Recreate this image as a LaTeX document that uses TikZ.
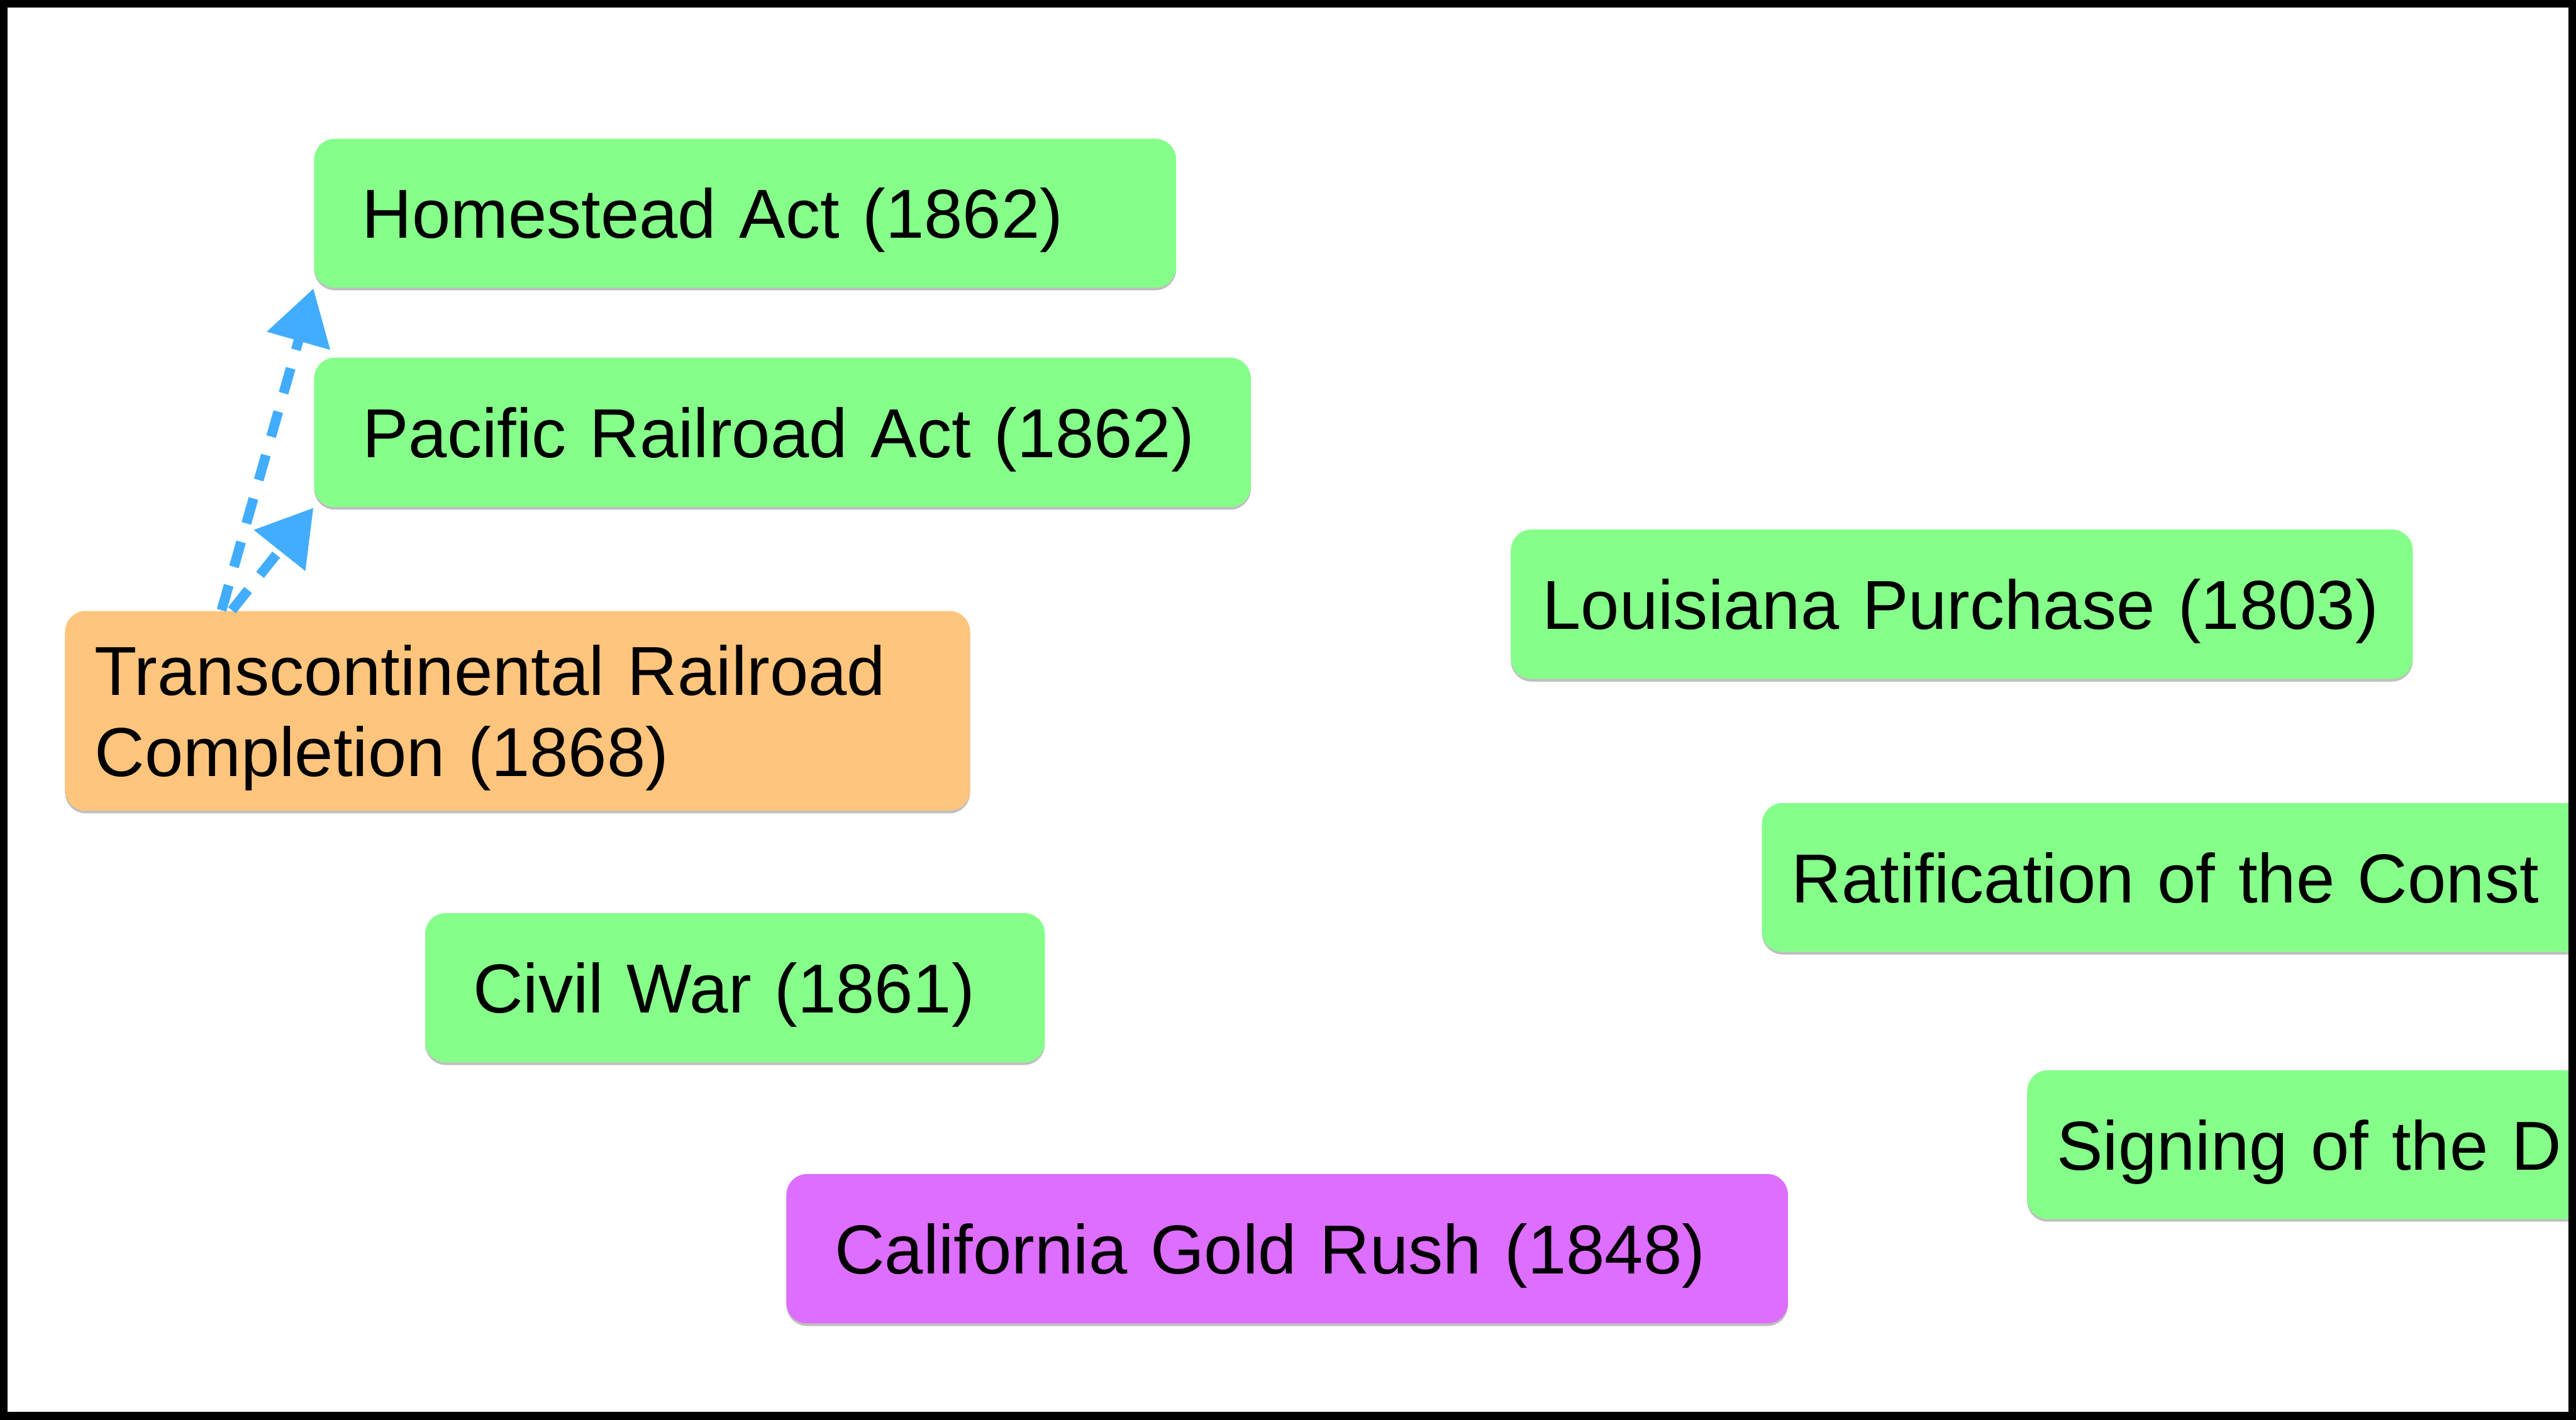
\documentclass[tikz,border=0pt]{standalone}
\usepackage{fontspec}
\setmainfont{Liberation Sans}
\usepackage{tikz}
\usetikzlibrary{arrows.meta, positioning, shadows}

\definecolor{evgreen}{HTML}{86FF8A}
\definecolor{evorange}{HTML}{FFC57D}
\definecolor{evpurple}{HTML}{DD6EFF}
\definecolor{linkblue}{HTML}{42ADFF}

\begin{document}
\begin{tikzpicture}[
    event/.style={rectangle, rounded corners=0.2cm, anchor=north west, inner ysep=0pt, align=left, text depth=0pt, font=\fontsize{19pt}{22.2pt}\selectfont, drop shadow={shadow xshift=0pt, shadow yshift=-0.025cm, opacity=0.25, fill=black}},
    link/.style={draw=linkblue, line width=0.095cm, dash pattern=on 0.25cm off 0.185cm, -{Triangle[length=0.525cm, width=0.61cm]}}
]
    \useasboundingbox (0,0) rectangle (24.82,-13.68);
    \begin{scope}
    \clip (0,0) rectangle (24.82,-13.68);
    \node [event, fill=evgreen, minimum width=8.305cm, minimum height=1.435cm, inner xsep=0.46cm, text width=7.385cm] (homestead) at (3.02,-1.33) {Homestead Act (1862)};
    \node [event, fill=evgreen, below right=0.66cm and 0cm of homestead.south west, minimum width=9.025cm, minimum height=1.44cm, inner xsep=0.465cm, text width=8.095cm] (pacific) {Pacific Railroad Act (1862)};
    \node [event, fill=evorange, minimum width=8.72cm, minimum height=1.925cm, inner xsep=0.285cm, text width=8.15cm, text depth=22.2pt] (railroad) at (0.62,-5.88) {Transcontinental Railroad\\Completion (1868)};
    \node [event, fill=evgreen, minimum width=8.69cm, minimum height=1.44cm, inner xsep=0.305cm, text width=8.08cm] (louisiana) at (14.55,-5.095) {Louisiana Purchase (1803)};
    \node [event, fill=evgreen, minimum width=9.03cm, minimum height=1.435cm, inner xsep=0.285cm, text width=8.46cm] (constitution) at (16.97,-7.73) {Ratification of the Const};
    \node [event, fill=evgreen, minimum width=5.97cm, minimum height=1.44cm, inner xsep=0.46cm, text width=5.05cm] (civilwar) at (4.09,-8.79) {Civil War (1861)};
    \node [event, fill=evgreen, minimum width=6.475cm, minimum height=1.435cm, inner xsep=0.285cm, text width=5.905cm] (declaration) at (19.525,-10.305) {Signing of the D};
    \node [event, fill=evpurple, minimum width=9.65cm, minimum height=1.44cm, inner xsep=0.465cm, text width=8.72cm] (goldrush) at (7.57,-11.305) {California Gold Rush (1848)};

    % dependencies of the railroad
    \draw [link] ([xshift=1.515cm]railroad.north west) -- (homestead.south west);
    \draw [link] ([xshift=1.615cm]railroad.north west) -- (pacific.south west);
    \end{scope}

    \draw [line width=0.075cm] (0.0375,-0.0375) rectangle (24.7825,-13.6425);
\end{tikzpicture}
\end{document}
